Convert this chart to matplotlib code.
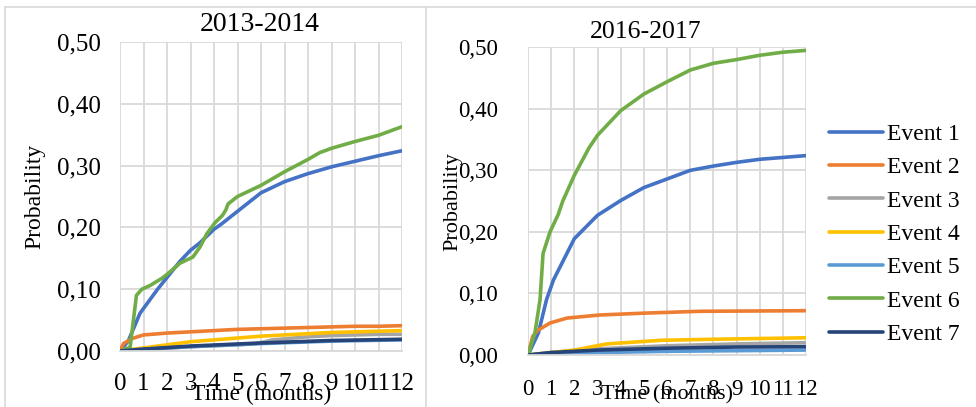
import matplotlib
matplotlib.use("Agg")
import matplotlib.pyplot as plt
from matplotlib.lines import Line2D
from matplotlib.ticker import FuncFormatter, MultipleLocator

plt.rcParams['font.family'] = ['Liberation Serif', 'DejaVu Serif']

# ---- data ----
names = ['Event 1', 'Event 2', 'Event 3', 'Event 4', 'Event 5', 'Event 6', 'Event 7']
colors = ['#4472C4', '#ED7D31', '#A5A5A5', '#FFC000', '#5B9BD5', '#70AD47', '#264478']
months = list(range(13))

# 2013-2014
t_e1_a = [0, 0.35, 0.85, 1.6, 2.55, 3.0, 3.4, 4.0, 4.3, 5.0, 6.0, 7.0, 8.0, 9.0, 10.0, 11.0, 12.0]
e1_a = [0, 0.016, 0.061, 0.10, 0.145, 0.163, 0.175, 0.197, 0.205, 0.226, 0.256, 0.274, 0.287, 0.298, 0.307, 0.316, 0.324]
t_e2_a = [0, 0.15, 0.5, 1, 2, 3, 4, 5, 6, 7, 8, 9, 10, 11, 12]
e2_a = [0, 0.012, 0.02, 0.026, 0.029, 0.031, 0.033, 0.035, 0.036, 0.037, 0.038, 0.039, 0.04, 0.04, 0.041]
t_e3_a = [0, 1, 3, 5, 5.8, 6.5, 8, 9, 10, 11, 12]
e3_a = [0, 0.002, 0.007, 0.010, 0.012, 0.018, 0.023, 0.025, 0.026, 0.027, 0.027]
t_e4_a = [0, 1, 2, 3, 4, 5, 6, 7, 8, 9, 10, 11, 12]
e4_a = [0, 0.005, 0.010, 0.015, 0.018, 0.021, 0.024, 0.026, 0.028, 0.030, 0.031, 0.032, 0.033]
t_e5_a = [0, 1, 3, 6, 9, 12]
e5_a = [0, 0.003, 0.007, 0.012, 0.016, 0.018]
t_e6_a = [0, 0.43, 0.7, 0.93, 1.28, 1.8, 2.0, 2.55, 3.1, 3.4, 3.7, 4.05, 4.35, 4.5, 4.6, 5.0, 6.0, 7.0, 8.0, 8.5, 9.0, 10.0, 11.0, 12.0]
e6_a = [0, 0.006, 0.09, 0.10, 0.106, 0.118, 0.124, 0.142, 0.152, 0.168, 0.19, 0.208, 0.219, 0.228, 0.238, 0.250, 0.268, 0.290, 0.310, 0.321, 0.328, 0.339, 0.349, 0.363]
t_e7_a = [0, 1, 3, 6, 9, 12]
e7_a = [0, 0.003, 0.008, 0.013, 0.017, 0.019]

# 2016-2017
t_e1_b = [0, 0.45, 0.8, 1.1, 2, 3, 4, 5, 6, 7, 8, 9, 10, 11, 12]
e1_b = [0, 0.036, 0.09, 0.122, 0.189, 0.227, 0.251, 0.272, 0.286, 0.300, 0.307, 0.313, 0.318, 0.321, 0.324]
t_e2_b = [0, 0.2, 0.42, 0.95, 1.68, 3.1, 5, 7.4, 12]
e2_b = [0, 0.03, 0.04, 0.052, 0.06, 0.065, 0.068, 0.071, 0.072]
t_e3_b = [0, 1, 3, 6, 9, 12]
e3_b = [0, 0.004, 0.010, 0.015, 0.018, 0.020]
t_e4_b = [0, 1, 2, 3.4, 5.8, 8.7, 12]
e4_b = [0, 0.004, 0.008, 0.018, 0.024, 0.026, 0.028]
t_e5_b = [0, 1, 3, 6, 9, 12]
e5_b = [0, 0.002, 0.004, 0.006, 0.007, 0.008]
t_e6_b = [0, 0.3, 0.52, 0.65, 0.95, 1.3, 1.5, 2, 2.64, 3, 4, 5, 6, 7, 8, 9, 10, 11, 12]
e6_b = [0, 0.036, 0.09, 0.165, 0.200, 0.228, 0.250, 0.292, 0.337, 0.357, 0.397, 0.424, 0.444, 0.463, 0.474, 0.480, 0.487, 0.492, 0.495]
t_e7_b = [0, 1, 3, 6, 9, 12]
e7_b = [0, 0.004, 0.008, 0.011, 0.013, 0.0135]

panels = [
    ('2013-2014', [(t_e1_a, e1_a), (t_e2_a, e2_a), (t_e3_a, e3_a), (t_e4_a, e4_a),
                   (t_e5_a, e5_a), (t_e6_a, e6_a), (t_e7_a, e7_a)]),
    ('2016-2017', [(t_e1_b, e1_b), (t_e2_b, e2_b), (t_e3_b, e3_b), (t_e4_b, e4_b),
                   (t_e5_b, e5_b), (t_e6_b, e6_b), (t_e7_b, e7_b)]),
]

fig = plt.figure(figsize=(9.76, 4.07), dpi=100)

# panel frames
fig.add_artist(Line2D([5 / 976, 5 / 976], [0, 400 / 407], color='#d9d9d9', lw=1.2))
fig.add_artist(Line2D([5 / 976, 1], [400 / 407, 400 / 407], color='#d9d9d9', lw=1.2))
fig.add_artist(Line2D([426 / 976, 426 / 976], [0, 400 / 407], color='#d9d9d9', lw=1.2))

axes_pos = [[120 / 976, 56 / 407, 282 / 976, 309 / 407],
            [528 / 976, 52 / 407, 278 / 976, 307.7 / 407]]
tick_fs = [18, 16.5]
label_fs = [17, 16]
title_fs = [20, 18.5]
ylab_x = [-0.266, -0.237]
ypad = [14, 21.5]
xpad = [16, 17]
title_x = [0.496, 0.424]
xlab_y = [-0.105, -0.097]

fmt = FuncFormatter(lambda v, p: f'{v:.2f}'.replace('.', ','))

for i, (title, series) in enumerate(panels):
    ax = fig.add_axes(axes_pos[i])
    for (t, y), name, c in zip(series, names, colors):
        ax.plot(t, y, color=c, lw=2.6, label=name, solid_capstyle='round')
    ax.set_xlim(0, 12)
    ax.set_ylim(0, 0.5)
    ax.set_xticks(months)
    ax.yaxis.set_major_locator(MultipleLocator(0.1))
    ax.yaxis.set_major_formatter(fmt)
    ax.grid(True, color='#d9d9d9', lw=1.3)
    ax.set_axisbelow(True)
    for s in ['top', 'right', 'left']:
        ax.spines[s].set_visible(False)
    ax.spines['bottom'].set_color('#d9d9d9')
    ax.spines['bottom'].set_linewidth(1.3)
    ax.tick_params(length=0, labelsize=tick_fs[i])
    ax.tick_params(axis='x', pad=xpad[i])
    ax.tick_params(axis='y', pad=ypad[i])
    ax.set_ylabel('Probability', fontsize=label_fs[i])
    ax.yaxis.set_label_coords(ylab_x[i], 0.5)
    ax.set_xlabel('Time (months)', fontsize=label_fs[i])
    ax.xaxis.set_label_coords(0.5, xlab_y[i])
    ax.text(title_x[i], 1.015, title, transform=ax.transAxes, ha='center', va='bottom', fontsize=title_fs[i])
    ax.patch.set_alpha(0)
    if i == 1:
        ax.legend(loc='center left', bbox_to_anchor=(1.04, 0.393), frameon=False, fontsize=17,
                  handlelength=2.3, handletextpad=0.17, labelspacing=0.5, borderpad=0)

fig.savefig('out.png', dpi=100)
